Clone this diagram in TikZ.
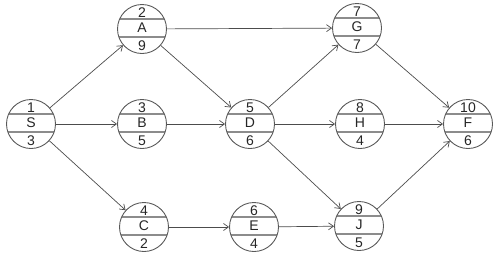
\documentclass[tikz,border=0pt]{standalone}
\usepackage{fontspec}
\setmainfont{Liberation Sans}
\usetikzlibrary{arrows.meta}
\tikzset{
  evnode/.style={circle, draw=black!65, line width=0.9pt, minimum size=49pt, inner sep=0pt},
  chord/.style={draw=black!45, line width=1.3pt},
  lbl/.style={font=\fontsize{14}{14}\selectfont, text=black!85, inner sep=0pt},
  arr/.style={draw=black!70, line width=0.7pt, -{Straight Barb[length=5pt,width=7pt]}},
}
\newcommand\evt[6]{%
  \begin{scope}
    \clip (#2,#3) circle[radius=24.5pt];
    \draw[chord] (#2-30,#3-10) -- (#2+30,#3-10);
    \draw[chord] (#2-30,#3+8) -- (#2+30,#3+8);
  \end{scope}
  \node[evnode] (#1) at (#2,#3) {};
  \node[lbl] (#1t) at (#2,#3-16) {#4};
  \node[lbl] (#1m) at (#2,#3-1) {#5};
  \node[lbl] (#1b) at (#2,#3+17) {#6};
}
\begin{document}
\begin{tikzpicture}[x=1pt,y=-1pt]
\useasboundingbox (0,0) rectangle (501,258);
\evt{S}{31}{124}{1}{S}{3}
\evt{A}{142}{29}{2}{A}{9}
\evt{B}{142}{124}{3}{B}{5}
\evt{C}{144}{227}{4}{C}{2}
\evt{D}{250}{124}{5}{D}{6}
\evt{E}{254}{227}{6}{E}{4}
\evt{G}{357}{28}{7}{G}{7}
\evt{H}{360}{124}{8}{H}{4}
\evt{J}{359}{226}{9}{J}{5}
\evt{F}{468}{124}{10}{F}{6}
\draw[arr] (S) -- (A);
\draw[arr] (S) -- (B);
\draw[arr] (S) -- (C);
\draw[arr] (A) -- (G);
\draw[arr] (A) -- (D);
\draw[arr] (B) -- (D);
\draw[arr] (C) -- (E);
\draw[arr] (D) -- (G);
\draw[arr] (D) -- (H);
\draw[arr] (D) -- (J);
\draw[arr] (E) -- (J);
\draw[arr] (G) -- (F);
\draw[arr] (H) -- (F);
\draw[arr] (J) -- (F);
\end{tikzpicture}
\end{document}
